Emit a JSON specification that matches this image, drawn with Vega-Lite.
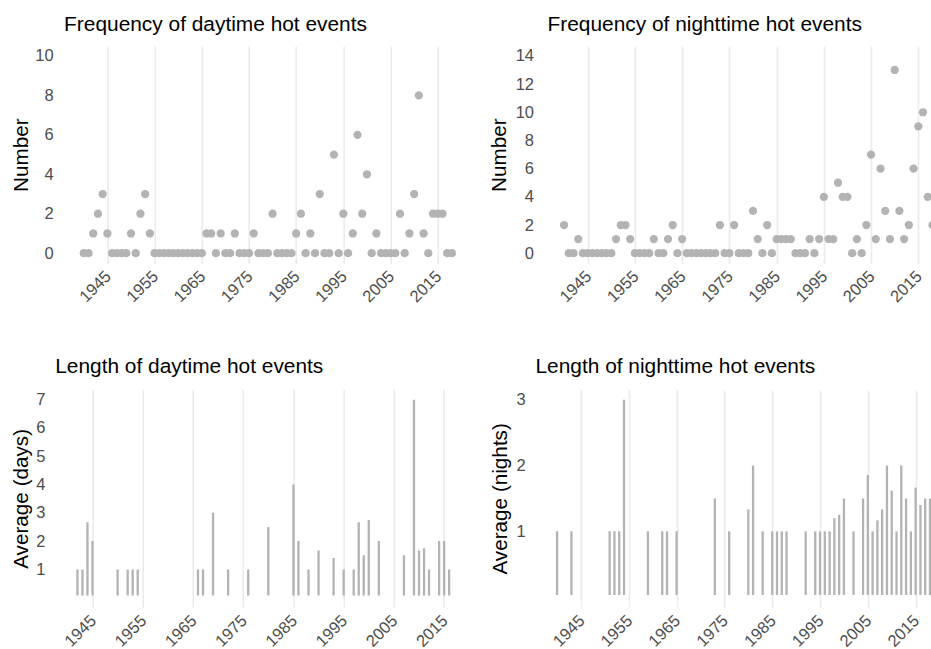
{
  "$schema": "https://vega.github.io/schema/vega-lite/v6.json",
  "background": "white",
  "padding": {"left": 9.7, "top": 13, "right": 0, "bottom": 0},
  "columns": 2,
  "bounds": "flush",
  "spacing": {"row": 125.6, "column": 65.3},
  "config": {
    "font": "Liberation Sans",
    "view": {"stroke": null},
    "axis": {
      "domain": false, "ticks": false, "tickSize": 0,
      "labelFont": "Liberation Sans", "labelFontSize": 16.5, "labelColor": "#4D4D4D",
      "titleFont": "Liberation Sans", "titleFontSize": 20.7, "titleColor": "#000000", "titleFontWeight": "normal",
      "gridColor": "#EBEBEB", "gridWidth": 1.6
    },
    "title": {"font": "Liberation Sans", "fontSize": 20.9, "fontWeight": "normal", "color": "#000000", "anchor": "start", "frame": "group", "baseline": "alphabetic"}
  },
  "datasets": {
    "freqDay": [
      {"year":1940,"n":0},{"year":1941,"n":0},{"year":1942,"n":1},{"year":1943,"n":2},{"year":1944,"n":3},
      {"year":1945,"n":1},{"year":1946,"n":0},{"year":1947,"n":0},{"year":1948,"n":0},{"year":1949,"n":0},
      {"year":1950,"n":1},{"year":1951,"n":0},{"year":1952,"n":2},{"year":1953,"n":3},{"year":1954,"n":1},
      {"year":1955,"n":0},{"year":1956,"n":0},{"year":1957,"n":0},{"year":1958,"n":0},{"year":1959,"n":0},
      {"year":1960,"n":0},{"year":1961,"n":0},{"year":1962,"n":0},{"year":1963,"n":0},{"year":1964,"n":0},
      {"year":1965,"n":0},{"year":1966,"n":1},{"year":1967,"n":1},{"year":1968,"n":0},{"year":1969,"n":1},
      {"year":1970,"n":0},{"year":1971,"n":0},{"year":1972,"n":1},{"year":1973,"n":0},{"year":1974,"n":0},
      {"year":1975,"n":0},{"year":1976,"n":1},{"year":1977,"n":0},{"year":1978,"n":0},{"year":1979,"n":0},
      {"year":1980,"n":2},{"year":1981,"n":0},{"year":1982,"n":0},{"year":1983,"n":0},{"year":1984,"n":0},
      {"year":1985,"n":1},{"year":1986,"n":2},{"year":1987,"n":0},{"year":1988,"n":1},{"year":1989,"n":0},
      {"year":1990,"n":3},{"year":1991,"n":0},{"year":1992,"n":0},{"year":1993,"n":5},{"year":1994,"n":0},
      {"year":1995,"n":2},{"year":1996,"n":0},{"year":1997,"n":1},{"year":1998,"n":6},{"year":1999,"n":2},
      {"year":2000,"n":4},{"year":2001,"n":0},{"year":2002,"n":1},{"year":2003,"n":0},{"year":2004,"n":0},
      {"year":2005,"n":0},{"year":2006,"n":0},{"year":2007,"n":2},{"year":2008,"n":0},{"year":2009,"n":1},
      {"year":2010,"n":3},{"year":2011,"n":8},{"year":2012,"n":1},{"year":2013,"n":0},{"year":2014,"n":2},
      {"year":2015,"n":2},{"year":2016,"n":2},{"year":2017,"n":0},{"year":2018,"n":0}
    ],
    "freqNight": [
      {"year":1940,"n":2},{"year":1941,"n":0},{"year":1942,"n":0},{"year":1943,"n":1},{"year":1944,"n":0},
      {"year":1945,"n":0},{"year":1946,"n":0},{"year":1947,"n":0},{"year":1948,"n":0},{"year":1949,"n":0},
      {"year":1950,"n":0},{"year":1951,"n":1},{"year":1952,"n":2},{"year":1953,"n":2},{"year":1954,"n":1},
      {"year":1955,"n":0},{"year":1956,"n":0},{"year":1957,"n":0},{"year":1958,"n":0},{"year":1959,"n":1},
      {"year":1960,"n":0},{"year":1961,"n":0},{"year":1962,"n":1},{"year":1963,"n":2},{"year":1964,"n":0},
      {"year":1965,"n":1},{"year":1966,"n":0},{"year":1967,"n":0},{"year":1968,"n":0},{"year":1969,"n":0},
      {"year":1970,"n":0},{"year":1971,"n":0},{"year":1972,"n":0},{"year":1973,"n":2},{"year":1974,"n":0},
      {"year":1975,"n":0},{"year":1976,"n":2},{"year":1977,"n":0},{"year":1978,"n":0},{"year":1979,"n":0},
      {"year":1980,"n":3},{"year":1981,"n":1},{"year":1982,"n":0},{"year":1983,"n":2},{"year":1984,"n":0},
      {"year":1985,"n":1},{"year":1986,"n":1},{"year":1987,"n":1},{"year":1988,"n":1},{"year":1989,"n":0},
      {"year":1990,"n":0},{"year":1991,"n":0},{"year":1992,"n":1},{"year":1993,"n":0},{"year":1994,"n":1},
      {"year":1995,"n":4},{"year":1996,"n":1},{"year":1997,"n":1},{"year":1998,"n":5},{"year":1999,"n":4},
      {"year":2000,"n":4},{"year":2001,"n":0},{"year":2002,"n":1},{"year":2003,"n":0},{"year":2004,"n":2},
      {"year":2005,"n":7},{"year":2006,"n":1},{"year":2007,"n":6},{"year":2008,"n":3},{"year":2009,"n":1},
      {"year":2010,"n":13},{"year":2011,"n":3},{"year":2012,"n":1},{"year":2013,"n":2},{"year":2014,"n":6},
      {"year":2015,"n":9},{"year":2016,"n":10},{"year":2017,"n":4},{"year":2018,"n":2}
    ],
    "lenDay": [
      {"year":1942,"avg":1},{"year":1943,"avg":1},{"year":1944,"avg":2.667},{"year":1945,"avg":2},
      {"year":1950,"avg":1},{"year":1952,"avg":1},{"year":1953,"avg":1},{"year":1954,"avg":1},
      {"year":1966,"avg":1},{"year":1967,"avg":1},{"year":1969,"avg":3},{"year":1972,"avg":1},
      {"year":1976,"avg":1},{"year":1980,"avg":2.5},{"year":1985,"avg":4},{"year":1986,"avg":2},
      {"year":1988,"avg":1},{"year":1990,"avg":1.667},{"year":1993,"avg":1.4},{"year":1995,"avg":1},
      {"year":1997,"avg":1},{"year":1998,"avg":2.667},{"year":1999,"avg":1.5},{"year":2000,"avg":2.75},
      {"year":2002,"avg":2},{"year":2007,"avg":1.5},{"year":2009,"avg":7},{"year":2010,"avg":1.667},
      {"year":2011,"avg":1.75},{"year":2012,"avg":1},{"year":2014,"avg":2},{"year":2015,"avg":2},
      {"year":2016,"avg":1}
    ],
    "lenNight": [
      {"year":1940,"avg":1},{"year":1943,"avg":1},{"year":1951,"avg":1},{"year":1952,"avg":1},
      {"year":1953,"avg":1},{"year":1954,"avg":3},{"year":1959,"avg":1},{"year":1962,"avg":1},
      {"year":1963,"avg":1},{"year":1965,"avg":1},{"year":1973,"avg":1.5},{"year":1976,"avg":1},
      {"year":1980,"avg":1.333},{"year":1981,"avg":2},{"year":1983,"avg":1},{"year":1985,"avg":1},
      {"year":1986,"avg":1},{"year":1987,"avg":1},{"year":1988,"avg":1},{"year":1992,"avg":1},
      {"year":1994,"avg":1},{"year":1995,"avg":1},{"year":1996,"avg":1},{"year":1997,"avg":1},
      {"year":1998,"avg":1.2},{"year":1999,"avg":1.25},{"year":2000,"avg":1.5},{"year":2002,"avg":1},
      {"year":2004,"avg":1.5},{"year":2005,"avg":1.857},{"year":2006,"avg":1},{"year":2007,"avg":1.167},
      {"year":2008,"avg":1.333},{"year":2009,"avg":2},{"year":2010,"avg":1.615},{"year":2011,"avg":1},
      {"year":2012,"avg":2},{"year":2013,"avg":1.5},{"year":2014,"avg":1},{"year":2015,"avg":1.667},
      {"year":2016,"avg":1.4},{"year":2017,"avg":1.5},{"year":2018,"avg":1.5}
    ]
  },
  "concat": [
    {
      "width": 413.7, "height": 217.5,
      "title": {"text": "Frequency of daytime hot events", "dx": 7.4, "offset": 11.4},
      "data": {"name": "freqDay"},
      "mark": {"type": "point", "filled": true, "size": 68, "color": "#B3B3B3", "opacity": 1, "clip": true},
      "encoding": {
        "x": {"field": "year", "type": "quantitative",
          "scale": {"domain": [1934.256, 2021.92], "nice": false, "zero": false},
          "axis": {"title": null, "values": [1945,1955,1965,1975,1985,1995,2005,2015], "format": "d", "grid": true,
            "labelAngle": -45, "labelAlign": "right", "labelBaseline": "top", "labelPadding": 4.2, "labelOffset": -5,
            "labelFlush": false, "labelOverlap": false}},
        "y": {"field": "n", "type": "quantitative",
          "scale": {"domain": [-0.522, 10.502], "nice": false, "zero": false},
          "axis": {"title": "Number", "values": [0,2,4,6,8,10], "grid": false, "labelPadding": 3.5, "labelBaseline": "middle",
            "titleX": -25.3, "titleY": 108.75, "titleBaseline": "bottom", "titleAngle": 270, "titleAlign": "center"}}
      }
    },
    {
      "width": 396, "height": 217.5,
      "title": {"text": "Frequency of nighttime hot events", "dx": 11.5, "offset": 11.4},
      "data": {"name": "freqNight"},
      "mark": {"type": "point", "filled": true, "size": 68, "color": "#B3B3B3", "opacity": 1, "clip": true},
      "encoding": {
        "x": {"field": "year", "type": "quantitative",
          "scale": {"domain": [1934.054, 2017.9], "nice": false, "zero": false},
          "axis": {"title": null, "values": [1945,1955,1965,1975,1985,1995,2005,2015], "format": "d", "grid": true,
            "labelAngle": -45, "labelAlign": "right", "labelBaseline": "top", "labelPadding": 4.2, "labelOffset": -5,
            "labelFlush": false, "labelOverlap": false}},
        "y": {"field": "n", "type": "quantitative",
          "scale": {"domain": [-0.731, 14.702], "nice": false, "zero": false},
          "axis": {"title": "Number", "values": [0,2,4,6,8,10,12,14], "grid": false, "labelPadding": 2.5, "labelBaseline": "middle",
            "titleX": -26.5, "titleY": 108.75, "titleBaseline": "bottom", "titleAngle": 270, "titleAlign": "center"}}
      }
    },
    {
      "width": 413.7, "height": 217.5,
      "title": {"text": "Length of daytime hot events", "dx": -1.5, "offset": 12.2},
      "data": {"name": "lenDay"},
      "mark": {"type": "rule", "strokeWidth": 2.3, "color": "#B3B3B3", "clip": true},
      "encoding": {
        "x": {"field": "year", "type": "quantitative",
          "scale": {"domain": [1937.873, 2020.23], "nice": false, "zero": false},
          "axis": {"title": null, "values": [1945,1955,1965,1975,1985,1995,2005,2015], "format": "d", "grid": true,
            "labelAngle": -45, "labelAlign": "right", "labelBaseline": "top", "labelPadding": 5, "labelOffset": -5,
            "labelFlush": false, "labelOverlap": false}},
        "y": {"field": "avg", "type": "quantitative",
          "scale": {"domain": [-0.333, 7.357], "nice": false, "zero": false},
          "axis": {"title": "Average (days)", "values": [1,2,3,4,5,6,7], "grid": false, "labelPadding": 11.7, "labelBaseline": "middle",
            "titleX": -25.3, "titleY": 108.75, "titleBaseline": "bottom", "titleAngle": 270, "titleAlign": "center"}},
        "y2": {"datum": 0.08}
      }
    },
    {
      "width": 396, "height": 217.5,
      "title": {"text": "Length of nighttime hot events", "dx": -0.5, "offset": 12.2},
      "data": {"name": "lenNight"},
      "mark": {"type": "rule", "strokeWidth": 2.3, "color": "#B3B3B3", "clip": true},
      "encoding": {
        "x": {"field": "year", "type": "quantitative",
          "scale": {"domain": [1935.588, 2018.42], "nice": false, "zero": false},
          "axis": {"title": null, "values": [1945,1955,1965,1975,1985,1995,2005,2015], "format": "d", "grid": true,
            "labelAngle": -45, "labelAlign": "right", "labelBaseline": "top", "labelPadding": 5, "labelOffset": -5,
            "labelFlush": false, "labelOverlap": false}},
        "y": {"field": "avg", "type": "quantitative",
          "scale": {"domain": [-0.15, 3.153], "nice": false, "zero": false},
          "axis": {"title": "Average (nights)", "values": [1,2,3], "grid": false, "labelPadding": 10.8, "labelBaseline": "middle",
            "titleX": -25.3, "titleY": 108.75, "titleBaseline": "bottom", "titleAngle": 270, "titleAlign": "center"}},
        "y2": {"datum": 0.035}
      }
    }
  ]
}
